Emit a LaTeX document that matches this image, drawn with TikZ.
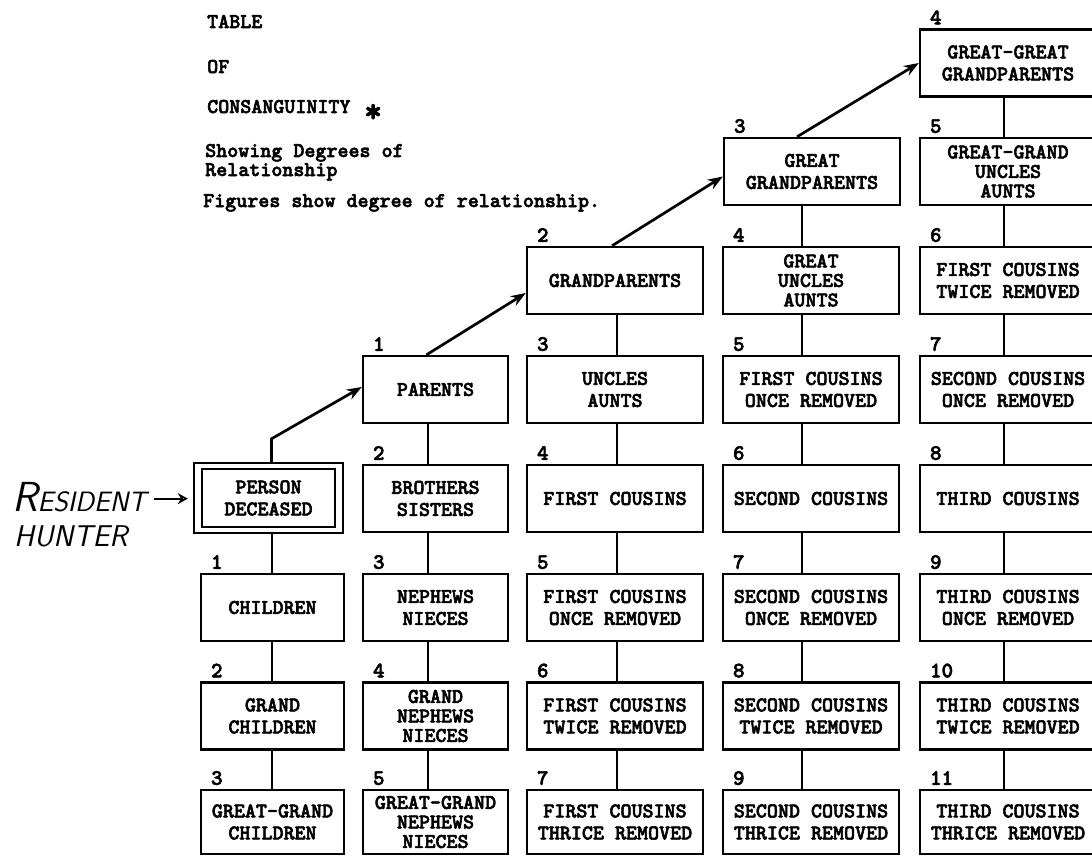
\documentclass[tikz,border=0pt]{standalone}
\usepackage{fontspec}
\newfontfamily\twfont{lmmonolt10-bold.otf}[FakeBold=2.5]
\usetikzlibrary{arrows.meta}
\tikzset{
  tw/.style={font=\fontsize{21}{22}\selectfont\twfont},
  tri/.style={font=\fontsize{21}{19.5}\selectfont\twfont},
  kbox/.style={draw, line width=2.4pt, tw, align=center, inner sep=0pt, minimum height=67pt},
  wa/.style={minimum width=143pt},
  wb/.style={minimum width=145pt},
  wc/.style={minimum width=176pt},
  numlbl/.style={font=\fontsize{22}{22}\selectfont\twfont, anchor=base west, inner sep=0pt},
  conn/.style={line width=2.4pt},
  arr/.style={line width=2.7pt, -{Stealth[length=15pt,width=11pt]}},
  harr/.style={line width=2.2pt, line cap=round, -{Stealth[length=10pt,width=11pt,open]}},
  hand/.style={font=\sffamily\itshape, anchor=base west, inner sep=0pt},
}
\newcommand\dgr[2]{\node[numlbl] (lbl#1) at ([shift={(11pt,4pt)}]#1.north west) {#2};}
\begin{document}
\begin{tikzpicture}[x=1pt,y=-1pt]
\fill[white] (0,0) rectangle (1092,856);
\clip (0,0) rectangle (1092,856);
% title
\node[tw, anchor=base west, inner sep=0pt] (t1) at (207,28) {TABLE};
\node[tw, anchor=base west, inner sep=0pt] (t2) at (207,73) {OF};
\node[tw, anchor=base west, inner sep=0pt] (t3) at (207,113) {CONSANGUINITY};
\node[font=\fontsize{34}{34}\selectfont\twfont, anchor=base west, inner sep=0pt] (ast) at (364,122) {*};
\node[tw, anchor=base west, inner sep=0pt] (t4) at (205,157) {Showing Degrees of};
\node[tw, anchor=base west, inner sep=0pt] (t5) at (205,176) {Relationship};
\node[tw, anchor=base west, inner sep=0pt] (t6) at (203,207) {Figures show degree of relationship.};
% column line positions
\coordinate (X1) at (272,0);
\coordinate (X2) at (428,0);
\coordinate (X3) at (617,0);
\coordinate (X4) at (802,0);
\coordinate (X5) at (1004,0);
% column 1
\node[draw, line width=2.4pt, minimum width=149pt, minimum height=70pt, inner sep=0pt] (pdo) at (268.5,498) {};
\node[kbox, minimum width=133pt, minimum height=58pt, line width=2pt] (pd) at (268.5,498) {PERSON\\DECEASED};
\node[kbox, wa] (n1F) at (272.5,607.5) {CHILDREN};
\node[kbox, wa] (n1G) at (272.5,716) {GRAND\\CHILDREN};
\node[kbox, wa, minimum height=64pt] (n1H) at (272.5,822) {GREAT-GRAND\\CHILDREN};
% column 2
\node[kbox, wb] (n2D) at (435.5,389.5) {PARENTS};
\node[kbox, wb] (n2E) at (435.5,498.5) {BROTHERS\\SISTERS};
\node[kbox, wb] (n2F) at (435.5,607.5) {NEPHEWS\\NIECES};
\node[kbox, wb, tri] (n2G) at (435.5,716) {GRAND\\NEPHEWS\\NIECES};
\node[kbox, wb, tri, minimum height=64pt] (n2H) at (435.5,822) {GREAT-GRAND\\NEPHEWS\\NIECES};
% column 3
\node[kbox, wc] (n3C) at (615,280.5) {GRANDPARENTS};
\node[kbox, wc] (n3D) at (615,389.5) {UNCLES\\AUNTS};
\node[kbox, wc] (n3E) at (615,498.5) {FIRST COUSINS};
\node[kbox, wc] (n3F) at (615,607.5) {FIRST COUSINS\\ONCE REMOVED};
\node[kbox, wc] (n3G) at (615,716) {FIRST COUSINS\\TWICE REMOVED};
\node[kbox, wc, minimum height=64pt] (n3H) at (615,822) {FIRST COUSINS\\THRICE REMOVED};
% column 4
\node[kbox, wc] (n4B) at (812,171.5) {GREAT\\GRANDPARENTS};
\node[kbox, wc, tri] (n4C) at (811,280.5) {GREAT\\UNCLES\\AUNTS};
\node[kbox, wc] (n4D) at (811,389.5) {FIRST COUSINS\\ONCE REMOVED};
\node[kbox, wc] (n4E) at (811,498.5) {SECOND COUSINS};
\node[kbox, wc] (n4F) at (811,607.5) {SECOND COUSINS\\ONCE REMOVED};
\node[kbox, wc] (n4G) at (811,716) {SECOND COUSINS\\TWICE REMOVED};
\node[kbox, wc, minimum height=64pt] (n4H) at (811,822) {SECOND COUSINS\\THRICE REMOVED};
% column 5
\node[kbox, wc] (n5A) at (1008,63) {GREAT-GREAT\\GRANDPARENTS};
\node[kbox, wc, tri] (n5B) at (1008,171.5) {GREAT-GRAND\\UNCLES\\AUNTS};
\node[kbox, wc] (n5C) at (1008,280.5) {FIRST COUSINS\\TWICE REMOVED};
\node[kbox, wc] (n5D) at (1008,389.5) {SECOND COUSINS\\ONCE REMOVED};
\node[kbox, wc] (n5E) at (1008,498.5) {THIRD COUSINS};
\node[kbox, wc] (n5F) at (1008,607.5) {THIRD COUSINS\\ONCE REMOVED};
\node[kbox, wc] (n5G) at (1008,716) {THIRD COUSINS\\TWICE REMOVED};
\node[kbox, wc, minimum height=64pt] (n5H) at (1008,822) {THIRD COUSINS\\THRICE REMOVED};
% degree numbers
\dgr{n1F}{1}\dgr{n1G}{2}\dgr{n1H}{3}
\dgr{n2D}{1}\dgr{n2E}{2}\dgr{n2F}{3}\dgr{n2G}{4}\dgr{n2H}{5}
\dgr{n3C}{2}\dgr{n3D}{3}\dgr{n3E}{4}\dgr{n3F}{5}\dgr{n3G}{6}\dgr{n3H}{7}
\dgr{n4B}{3}\dgr{n4C}{4}\dgr{n4D}{5}\dgr{n4E}{6}\dgr{n4F}{7}\dgr{n4G}{8}\dgr{n4H}{9}
\dgr{n5A}{4}\dgr{n5B}{5}\dgr{n5C}{6}\dgr{n5D}{7}\dgr{n5E}{8}\dgr{n5F}{9}\dgr{n5G}{10}\dgr{n5H}{11}
% vertical connectors
\draw[conn] (pdo.south -| X1) -- (n1F.north -| X1);
\draw[conn] (n1F.south -| X1) -- (n1G.north -| X1);
\draw[conn] (n1G.south -| X1) -- (n1H.north -| X1);
\draw[conn] (n2D.south -| X2) -- (n2E.north -| X2);
\draw[conn] (n2E.south -| X2) -- (n2F.north -| X2);
\draw[conn] (n2F.south -| X2) -- (n2G.north -| X2);
\draw[conn] (n2G.south -| X2) -- (n2H.north -| X2);
\draw[conn] (n3C.south -| X3) -- (n3D.north -| X3);
\draw[conn] (n3D.south -| X3) -- (n3E.north -| X3);
\draw[conn] (n3E.south -| X3) -- (n3F.north -| X3);
\draw[conn] (n3F.south -| X3) -- (n3G.north -| X3);
\draw[conn] (n3G.south -| X3) -- (n3H.north -| X3);
\draw[conn] (n4B.south -| X4) -- (n4C.north -| X4);
\draw[conn] (n4C.south -| X4) -- (n4D.north -| X4);
\draw[conn] (n4D.south -| X4) -- (n4E.north -| X4);
\draw[conn] (n4E.south -| X4) -- (n4F.north -| X4);
\draw[conn] (n4F.south -| X4) -- (n4G.north -| X4);
\draw[conn] (n4G.south -| X4) -- (n4H.north -| X4);
\draw[conn] (n5A.south -| X5) -- (n5B.north -| X5);
\draw[conn] (n5B.south -| X5) -- (n5C.north -| X5);
\draw[conn] (n5C.south -| X5) -- (n5D.north -| X5);
\draw[conn] (n5D.south -| X5) -- (n5E.north -| X5);
\draw[conn] (n5E.south -| X5) -- (n5F.north -| X5);
\draw[conn] (n5F.south -| X5) -- (n5G.north -| X5);
\draw[conn] (n5G.south -| X5) -- (n5H.north -| X5);
% ancestor arrows
\draw[arr] ([xshift=3pt]pdo.north) -- ++(0,-23) -- ([yshift=2.5pt]n2D.west);
\draw[arr] ([xshift=-9pt]n2D.north) -- ([yshift=-12.5pt]n3C.west);
\draw[arr] ([xshift=-3pt]n3C.north) -- ([yshift=-5pt]n4B.west);
\draw[arr] ([xshift=-15pt]n4B.north) -- (n5A.west);
% handwritten note
\node[hand] (res) at (12,511) {\fontsize{42}{42}\selectfont R\fontsize{28}{28}\selectfont ESIDENT};
\node[hand] (hun) at (14,546) {\fontsize{30}{30}\selectfont HUNTER};
\draw[harr] ([xshift=8pt,yshift=-2pt]res.east) -- ([xshift=-5pt,yshift=-2pt]res.east -| pdo.west);
\end{tikzpicture}
\end{document}
